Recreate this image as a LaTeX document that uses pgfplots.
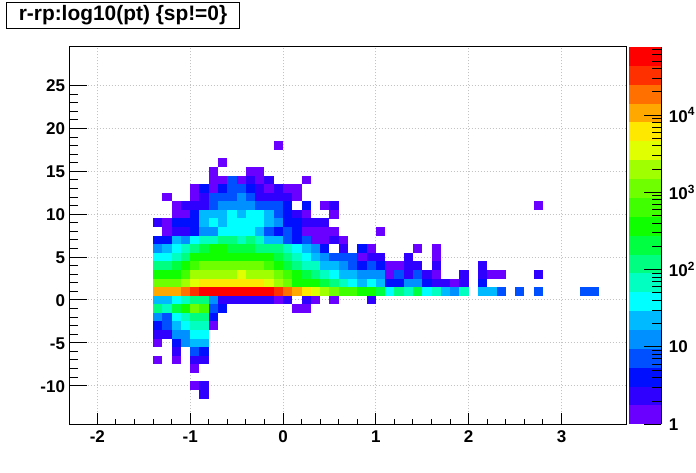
\documentclass[border=0pt]{standalone}
\usepackage{pgfplots}
\pgfplotsset{compat=1.18}
\usepackage{fontspec}
\setmainfont{Liberation Sans}
\definecolor{c0}{RGB}{106,0,255}
\definecolor{c1}{RGB}{48,0,255}
\definecolor{c2}{RGB}{0,16,255}
\definecolor{c3}{RGB}{0,80,255}
\definecolor{c4}{RGB}{0,144,255}
\definecolor{c5}{RGB}{0,186,255}
\definecolor{c6}{RGB}{0,255,255}
\definecolor{c7}{RGB}{0,255,192}
\definecolor{c8}{RGB}{0,255,128}
\definecolor{c9}{RGB}{0,255,64}
\definecolor{c10}{RGB}{16,255,0}
\definecolor{c11}{RGB}{64,255,0}
\definecolor{c12}{RGB}{112,255,0}
\definecolor{c13}{RGB}{160,255,0}
\definecolor{c14}{RGB}{224,255,0}
\definecolor{c15}{RGB}{255,232,0}
\definecolor{c16}{RGB}{255,168,0}
\definecolor{c17}{RGB}{255,112,0}
\definecolor{c18}{RGB}{255,48,0}
\definecolor{c19}{RGB}{255,0,0}
\definecolor{gridgray}{RGB}{195,195,195}
\pgfdeclareplotmark{cell}{\pgfpathrectangle{\pgfpoint{-4.67pt}{-4.31pt}}{\pgfpoint{9.34pt}{8.62pt}}\pgfusepathqfill}
\begin{document}
\begin{tikzpicture}[x=1pt,y=1pt]
\path[use as bounding box] (0,0) rectangle (696,472);
\begin{axis}[
  at={(69.5pt,47.7pt)}, anchor=south west,
  scale only axis, width=557pt, height=377.3pt,
  xmin=-2.3, xmax=3.7, ymin=-14.5, ymax=29.5,
  axis on top, axis line style={line width=1pt},
  xtick={-2,-1,0,1,2,3}, xticklabels={-2,-1,0,1,2,3},
  ytick={-10,-5,0,5,10,15,20,25}, yticklabels={-10,-5,0,5,10,15,20,25},
  minor x tick num=4, minor y tick num=4,
  tick style={line width=1pt,black},
  tick align=inside, xtick pos=lower, ytick pos=left,
  xtick style={/pgfplots/major tick length=11pt,/pgfplots/minor tick length=5.5pt},
  ytick style={/pgfplots/major tick length=17pt,/pgfplots/minor tick length=8.5pt},
  xmajorgrids, ymajorgrids,
  grid style={line width=1pt,gridgray,dash pattern=on 1.1pt off 1.9pt},
  tick label style={font=\fontsize{17}{17}\selectfont\bfseries},
  xticklabel style={yshift=-3pt}, yticklabel style={xshift=-1pt,yshift=-0.5pt},
  scatter/classes={
    0={mark=cell,fill=c0},1={mark=cell,fill=c1},2={mark=cell,fill=c2},3={mark=cell,fill=c3},
    4={mark=cell,fill=c4},5={mark=cell,fill=c5},6={mark=cell,fill=c6},7={mark=cell,fill=c7},
    8={mark=cell,fill=c8},9={mark=cell,fill=c9},10={mark=cell,fill=c10},11={mark=cell,fill=c11},
    12={mark=cell,fill=c12},13={mark=cell,fill=c13},14={mark=cell,fill=c14},15={mark=cell,fill=c15},
    16={mark=cell,fill=c16},17={mark=cell,fill=c17},18={mark=cell,fill=c18},19={mark=cell,fill=c19}},
]
\addplot[scatter, only marks, scatter src=explicit symbolic] table[row sep=\\, x=x, y=y, meta=c]{
x y c\\
-0.05 18 0\\
-0.65 16 0\\
-0.75 15 0\\ -0.35 15 0\\ -0.25 15 0\\
-0.75 14 0\\ -0.65 14 0\\ -0.55 14 3\\ -0.45 14 0\\ -0.35 14 1\\ -0.25 14 0\\ -0.15 14 1\\ 0.25 14 0\\
-0.95 13 0\\ -0.85 13 2\\ -0.75 13 0\\ -0.65 13 2\\ -0.55 13 3\\ -0.45 13 3\\ -0.35 13 2\\ -0.25 13 1\\ -0.15 13 0\\ -0.05 13 1\\ 0.05 13 0\\ 0.15 13 0\\
-1.25 12 0\\ -0.95 12 0\\ -0.85 12 1\\ -0.75 12 3\\ -0.65 12 3\\ -0.55 12 3\\ -0.45 12 4\\ -0.35 12 3\\ -0.25 12 1\\ -0.15 12 1\\ -0.05 12 1\\ 0.05 12 1\\ 0.15 12 0\\
-1.15 11 0\\ -1.05 11 1\\ -0.95 11 1\\ -0.85 11 1\\ -0.75 11 3\\ -0.65 11 4\\ -0.55 11 4\\ -0.45 11 4\\ -0.35 11 4\\ -0.25 11 3\\ -0.15 11 3\\ -0.05 11 3\\ 0.05 11 2\\ 0.25 11 2\\ 0.45 11 0\\ 0.55 11 1\\ 2.75 11 0\\
-1.15 10 0\\ -1.05 10 0\\ -0.95 10 2\\ -0.85 10 5\\ -0.75 10 5\\ -0.65 10 5\\ -0.55 10 6\\ -0.45 10 5\\ -0.35 10 6\\ -0.25 10 6\\ -0.15 10 5\\ -0.05 10 3\\ 0.05 10 2\\ 0.15 10 1\\ 0.25 10 0\\ 0.55 10 0\\
-1.35 9 1\\ -1.25 9 0\\ -1.15 9 2\\ -1.05 9 2\\ -0.95 9 2\\ -0.85 9 5\\ -0.75 9 6\\ -0.65 9 5\\ -0.55 9 6\\ -0.45 9 6\\ -0.35 9 6\\ -0.25 9 6\\ -0.15 9 5\\ -0.05 9 4\\ 0.05 9 2\\ 0.15 9 2\\ 0.25 9 1\\ 0.35 9 1\\ 0.45 9 1\\
-1.25 8 0\\ -1.15 8 1\\ -1.05 8 1\\ -0.95 8 2\\ -0.85 8 4\\ -0.75 8 4\\ -0.65 8 6\\ -0.55 8 6\\ -0.45 8 6\\ -0.35 8 6\\ -0.25 8 5\\ -0.15 8 3\\ -0.05 8 2\\ 0.05 8 3\\ 0.15 8 2\\ 0.25 8 0\\ 0.35 8 0\\ 0.45 8 0\\ 0.55 8 0\\ 1.05 8 0\\
-1.35 7 2\\ -1.25 7 2\\ -1.15 7 5\\ -1.05 7 4\\ -0.95 7 6\\ -0.85 7 7\\ -0.75 7 7\\ -0.65 7 8\\ -0.55 7 8\\ -0.45 7 7\\ -0.35 7 8\\ -0.25 7 7\\ -0.15 7 5\\ -0.05 7 5\\ 0.05 7 3\\ 0.15 7 2\\ 0.25 7 3\\ 0.35 7 0\\ 0.45 7 0\\ 0.55 7 1\\ 0.65 7 0\\
-1.35 6 4\\ -1.25 6 5\\ -1.15 6 6\\ -1.05 6 7\\ -0.95 6 8\\ -0.85 6 9\\ -0.75 6 10\\ -0.65 6 10\\ -0.55 6 9\\ -0.45 6 9\\ -0.35 6 9\\ -0.25 6 8\\ -0.15 6 8\\ -0.05 6 8\\ 0.05 6 7\\ 0.15 6 6\\ 0.25 6 5\\ 0.35 6 4\\ 0.45 6 2\\ 0.65 6 1\\ 0.85 6 2\\ 0.95 6 0\\ 1.45 6 0\\ 1.65 6 0\\
-1.35 5 6\\ -1.25 5 6\\ -1.15 5 7\\ -1.05 5 8\\ -0.95 5 10\\ -0.85 5 10\\ -0.75 5 10\\ -0.65 5 10\\ -0.55 5 10\\ -0.45 5 10\\ -0.35 5 10\\ -0.25 5 10\\ -0.15 5 10\\ -0.05 5 9\\ 0.05 5 8\\ 0.15 5 7\\ 0.25 5 6\\ 0.35 5 5\\ 0.45 5 4\\ 0.55 5 3\\ 0.65 5 3\\ 0.75 5 3\\ 0.85 5 0\\ 0.95 5 1\\ 1.05 5 1\\ 1.35 5 1\\ 1.65 5 0\\
-1.35 4 8\\ -1.25 4 8\\ -1.15 4 9\\ -1.05 4 10\\ -0.95 4 11\\ -0.85 4 12\\ -0.75 4 12\\ -0.65 4 12\\ -0.55 4 12\\ -0.45 4 12\\ -0.35 4 12\\ -0.25 4 12\\ -0.15 4 11\\ -0.05 4 10\\ 0.05 4 9\\ 0.15 4 8\\ 0.25 4 7\\ 0.35 4 7\\ 0.45 4 5\\ 0.55 4 5\\ 0.65 4 4\\ 0.75 4 3\\ 0.85 4 2\\ 0.95 4 3\\ 1.05 4 2\\ 1.15 4 0\\ 1.25 4 0\\ 1.35 4 1\\ 1.45 4 1\\ 1.65 4 1\\ 2.15 4 1\\
-1.35 3 10\\ -1.25 3 10\\ -1.15 3 10\\ -1.05 3 11\\ -0.95 3 13\\ -0.85 3 13\\ -0.75 3 13\\ -0.65 3 13\\ -0.55 3 13\\ -0.45 3 14\\ -0.35 3 13\\ -0.25 3 13\\ -0.15 3 13\\ -0.05 3 12\\ 0.05 3 11\\ 0.15 3 10\\ 0.25 3 9\\ 0.35 3 8\\ 0.45 3 7\\ 0.55 3 6\\ 0.65 3 5\\ 0.75 3 5\\ 0.85 3 4\\ 0.95 3 4\\ 1.05 3 4\\ 1.15 3 0\\ 1.25 3 3\\ 1.35 3 1\\ 1.45 3 3\\ 1.55 3 1\\ 1.65 3 0\\ 1.95 3 1\\ 2.15 3 1\\ 2.25 3 0\\ 2.35 3 0\\ 2.75 3 1\\
-1.35 2 12\\ -1.25 2 12\\ -1.15 2 12\\ -1.05 2 13\\ -0.95 2 14\\ -0.85 2 15\\ -0.75 2 15\\ -0.65 2 15\\ -0.55 2 15\\ -0.45 2 15\\ -0.35 2 15\\ -0.25 2 15\\ -0.15 2 14\\ -0.05 2 13\\ 0.05 2 12\\ 0.15 2 10\\ 0.25 2 10\\ 0.35 2 10\\ 0.45 2 9\\ 0.55 2 8\\ 0.65 2 7\\ 0.75 2 6\\ 0.85 2 5\\ 0.95 2 6\\ 1.05 2 5\\ 1.15 2 2\\ 1.25 2 2\\ 1.35 2 4\\ 1.45 2 4\\ 1.55 2 2\\ 1.65 2 1\\ 1.75 2 1\\ 1.85 2 0\\ 1.95 2 1\\ 2.15 2 2\\
-1.35 1 16\\ -1.25 1 16\\ -1.15 1 16\\ -1.05 1 17\\ -0.95 1 18\\ -0.85 1 19\\ -0.75 1 19\\ -0.65 1 19\\ -0.55 1 19\\ -0.45 1 19\\ -0.35 1 19\\ -0.25 1 19\\ -0.15 1 19\\ -0.05 1 18\\ 0.05 1 17\\ 0.15 1 16\\ 0.25 1 15\\ 0.35 1 14\\ 0.45 1 13\\ 0.55 1 12\\ 0.65 1 11\\ 0.75 1 11\\ 0.85 1 10\\ 0.95 1 10\\ 1.05 1 9\\ 1.15 1 6\\ 1.25 1 8\\ 1.35 1 7\\ 1.45 1 9\\ 1.55 1 6\\ 1.65 1 7\\ 1.75 1 5\\ 1.85 1 4\\ 1.95 1 7\\ 2.15 1 5\\ 2.25 1 5\\ 2.35 1 3\\ 2.55 1 3\\ 2.75 1 3\\ 3.25 1 3\\ 3.35 1 3\\
-1.35 0 5\\ -1.25 0 5\\ -1.15 0 6\\ -1.05 0 7\\ -0.95 0 8\\ -0.85 0 8\\ -0.75 0 4\\ -0.65 0 1\\ -0.55 0 1\\ -0.45 0 1\\ -0.35 0 1\\ -0.25 0 1\\ -0.15 0 1\\ -0.05 0 0\\ 0.05 0 1\\ 0.25 0 1\\ 0.35 0 0\\ 0.55 0 0\\ 0.95 0 1\\
-1.35 -1 8\\ -1.25 -1 7\\ -1.15 -1 9\\ -1.05 -1 10\\ -0.95 -1 12\\ -0.85 -1 11\\ -0.75 -1 3\\ -0.65 -1 2\\ 0.15 -1 0\\ 0.25 -1 0\\
-1.35 -2 4\\ -1.25 -2 3\\ -1.15 -2 6\\ -1.05 -2 7\\ -0.95 -2 8\\ -0.85 -2 8\\ -0.75 -2 2\\
-1.35 -3 2\\ -1.25 -3 3\\ -1.15 -3 5\\ -1.05 -3 6\\ -0.95 -3 7\\ -0.85 -3 7\\ -0.75 -3 0\\
-1.35 -4 1\\ -1.25 -4 1\\ -1.15 -4 4\\ -1.05 -4 4\\ -0.95 -4 6\\ -0.85 -4 6\\
-1.35 -5 0\\ -1.15 -5 2\\ -1.05 -5 4\\ -0.95 -5 5\\ -0.85 -5 5\\
-1.15 -6 1\\ -0.95 -6 3\\ -0.85 -6 2\\
-1.35 -7 0\\ -1.15 -7 0\\ -0.95 -7 1\\ -0.85 -7 1\\
-0.95 -8 0\\
-0.95 -10 0\\ -0.85 -10 1\\
-0.85 -11 1\\
};
\end{axis}
\begin{axis}[
  at={(629pt,47.7pt)}, anchor=south west,
  scale only axis, width=32.3pt, height=377.3pt,
  xmin=0, xmax=1, ymode=log, ymin=1, ymax=76030,
  axis on top, axis x line=none, axis y line*=right,
  axis line style={line width=1pt,-},
  ytick={1,10,100,1000,10000},
  yticklabels={1,10,10\textsuperscript{2},10\textsuperscript{3},10\textsuperscript{4}},
  minor ytick={2,3,4,5,6,7,8,9,20,30,40,50,60,70,80,90,200,300,400,500,600,700,800,900,2000,3000,4000,5000,6000,7000,8000,9000,20000,30000,40000,50000,60000,70000},
  tick align=inside,
  tick style={line width=1pt,black},
  major tick length=17pt, minor tick length=9pt,
  tick label style={font=\fontsize{17}{17}\selectfont\bfseries},
  yticklabel style={xshift=4pt},
]
\addplot[draw=none,fill=c0] coordinates {(0,1)(1,1)(1,1.754)(0,1.754)} --cycle;
\addplot[draw=none,fill=c1] coordinates {(0,1.754)(1,1.754)(1,3.077)(0,3.077)} --cycle;
\addplot[draw=none,fill=c2] coordinates {(0,3.077)(1,3.077)(1,5.397)(0,5.397)} --cycle;
\addplot[draw=none,fill=c3] coordinates {(0,5.397)(1,5.397)(1,9.467)(0,9.467)} --cycle;
\addplot[draw=none,fill=c4] coordinates {(0,9.467)(1,9.467)(1,16.61)(0,16.61)} --cycle;
\addplot[draw=none,fill=c5] coordinates {(0,16.61)(1,16.61)(1,29.13)(0,29.13)} --cycle;
\addplot[draw=none,fill=c6] coordinates {(0,29.13)(1,29.13)(1,51.10)(0,51.10)} --cycle;
\addplot[draw=none,fill=c7] coordinates {(0,51.10)(1,51.10)(1,89.62)(0,89.62)} --cycle;
\addplot[draw=none,fill=c8] coordinates {(0,89.62)(1,89.62)(1,157.2)(0,157.2)} --cycle;
\addplot[draw=none,fill=c9] coordinates {(0,157.2)(1,157.2)(1,275.8)(0,275.8)} --cycle;
\addplot[draw=none,fill=c10] coordinates {(0,275.8)(1,275.8)(1,483.7)(0,483.7)} --cycle;
\addplot[draw=none,fill=c11] coordinates {(0,483.7)(1,483.7)(1,848.5)(0,848.5)} --cycle;
\addplot[draw=none,fill=c12] coordinates {(0,848.5)(1,848.5)(1,1488)(0,1488)} --cycle;
\addplot[draw=none,fill=c13] coordinates {(0,1488)(1,1488)(1,2611)(0,2611)} --cycle;
\addplot[draw=none,fill=c14] coordinates {(0,2611)(1,2611)(1,4580)(0,4580)} --cycle;
\addplot[draw=none,fill=c15] coordinates {(0,4580)(1,4580)(1,8034)(0,8034)} --cycle;
\addplot[draw=none,fill=c16] coordinates {(0,8034)(1,8034)(1,14090)(0,14090)} --cycle;
\addplot[draw=none,fill=c17] coordinates {(0,14090)(1,14090)(1,24720)(0,24720)} --cycle;
\addplot[draw=none,fill=c18] coordinates {(0,24720)(1,24720)(1,43360)(0,43360)} --cycle;
\addplot[draw=none,fill=c19] coordinates {(0,43360)(1,43360)(1,76030)(0,76030)} --cycle;
\end{axis}
\draw[line width=1pt] (6.3,443.7) rectangle (239.7,469.7);
\node[anchor=center,font=\fontsize{20.9}{21}\selectfont\bfseries,inner sep=0pt] at (123,456.5) {r-rp:log10(pt) \{sp!=0\}};
\end{tikzpicture}
\end{document}
